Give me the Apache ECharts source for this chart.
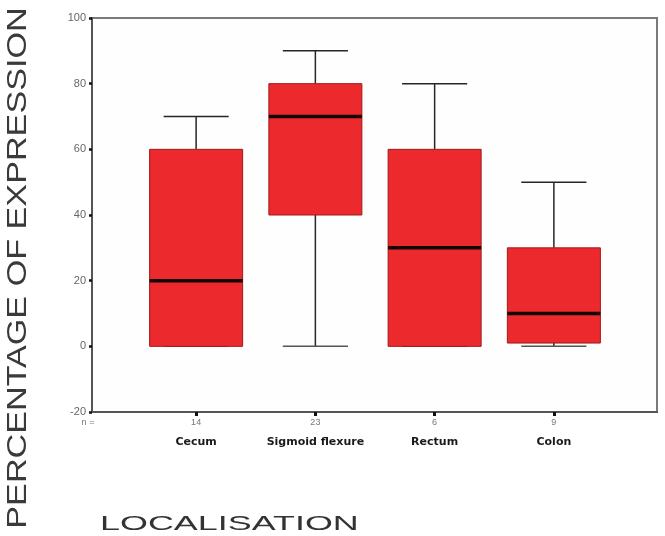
<!DOCTYPE html>
<html>
<head>
<meta charset="utf-8">
<script src="https://cdn.jsdelivr.net/npm/echarts@6/dist/echarts.min.js"></script>
<style>html,body{margin:0;padding:0;background:#fff}#c{width:665px;height:536px}</style>
</head>
<body>
<div id="c"></div>
<script>
const categories = ['Cecum', 'Sigmoid flexure', 'Rectum', 'Colon'];
const counts = [14, 23, 6, 9];
const whiskerLow = [0, 0, 0, 0];
const q1 = [0, 40, 0, 1];
const median = [20, 70, 30, 10];
const q3 = [60, 80, 60, 30];
const whiskerHigh = [70, 90, 80, 50];
const yMin = -20, yMax = 100, yStep = 20;

const boxData = categories.map((c, i) => [i, whiskerLow[i], q1[i], median[i], q3[i], whiskerHigh[i]]);

const chart = echarts.init(document.getElementById('c'), null, {renderer: 'canvas'});

function renderBox(params, api) {
  const i = api.value(0);
  const band = api.size([1, 0])[0];
  const bw = band * 0.78;
  const cap = bw * 0.7;
  const pLow = api.coord([i, api.value(1)]);
  const pQ1 = api.coord([i, api.value(2)]);
  const pMed = api.coord([i, api.value(3)]);
  const pQ3 = api.coord([i, api.value(4)]);
  const pHigh = api.coord([i, api.value(5)]);
  const cx = pMed[0];
  const wStyle = {stroke: '#262626', lineWidth: 1.5};
  return {
    type: 'group',
    children: [
      {type: 'line', shape: {x1: cx, y1: pQ3[1], x2: cx, y2: pHigh[1]}, style: wStyle},
      {type: 'line', shape: {x1: cx - cap / 2, y1: pHigh[1], x2: cx + cap / 2, y2: pHigh[1]}, style: wStyle},
      {type: 'line', shape: {x1: cx, y1: pQ1[1], x2: cx, y2: pLow[1]}, style: wStyle},
      {type: 'line', shape: {x1: cx - cap / 2, y1: pLow[1], x2: cx + cap / 2, y2: pLow[1]}, style: {stroke: '#555', lineWidth: 1.5}},
      {type: 'rect', shape: {x: cx - bw / 2, y: pQ3[1], width: bw, height: pQ1[1] - pQ3[1]},
        style: {fill: '#ec292d', stroke: '#a3181b', lineWidth: 1}},
      {type: 'line', shape: {x1: cx - bw / 2, y1: pMed[1], x2: cx + bw / 2, y2: pMed[1]}, style: {stroke: '#140404', lineWidth: 3.5}}
    ]
  };
}

const option = {
  backgroundColor: '#ffffff',
  animation: false,
  grid: [
    {left: 92, right: 8, top: 18, bottom: 124, show: true, borderColor: '#7a7a7a', borderWidth: 2, backgroundColor: '#fefefe'},
    {left: 136.5, right: 51.5, top: 18, bottom: 124}
  ],
  xAxis: [
    {gridIndex: 0, type: 'value', min: 0, max: 1,
      axisLine: {show: true, onZero: false, lineStyle: {color: '#555', width: 2}},
      axisTick: {show: false}, axisLabel: {show: false}, splitLine: {show: false}},
    {gridIndex: 1, type: 'category', data: categories, boundaryGap: true,
      axisLine: {show: false, onZero: false},
      axisTick: {show: true, alignWithLabel: true, length: 4, lineStyle: {color: '#111', width: 3}},
      axisLabel: {
        margin: 4, interval: 0,
        formatter: (v, idx) => '{n|' + counts[idx] + '}\n{c|' + v + '}',
        rich: {
          n: {fontSize: 9, color: '#777', lineHeight: 14, fontFamily: 'Liberation Sans'},
          c: {fontSize: 11, fontWeight: 'bold', color: '#1a1a1a', lineHeight: 24, fontFamily: 'DejaVu Sans'}
        }
      },
      splitLine: {show: false}}
  ],
  yAxis: [
    {gridIndex: 0, type: 'value', min: yMin, max: yMax, interval: yStep,
      axisLine: {show: true, onZero: false, lineStyle: {color: '#555', width: 2}},
      axisTick: {show: true, inside: false, length: 3, lineStyle: {color: '#111', width: 2.5}},
      axisLabel: {color: '#666', fontSize: 11, margin: 6, fontFamily: 'Liberation Sans'},
      splitLine: {show: false}},
    {gridIndex: 1, type: 'value', min: yMin, max: yMax, interval: yStep, show: false, splitLine: {show: false}}
  ],
  series: [{
    type: 'custom',
    xAxisIndex: 1,
    yAxisIndex: 1,
    data: boxData,
    encode: {x: 0, y: [1, 2, 3, 4, 5]},
    renderItem: renderBox
  }],
  graphic: [
    {type: 'text', x: 18, y: 268, rotation: Math.PI / 2, scaleX: 1.22,
      style: {text: 'PERCENTAGE OF EXPRESSION', fontSize: 28, fontFamily: 'Liberation Sans', fill: '#3a3a3a',
        textAlign: 'center', textVerticalAlign: 'middle'}},
    {type: 'text', x: 100, y: 524, scaleX: 1.71,
      style: {text: 'LOCALISATION', fontSize: 21, fontFamily: 'Liberation Sans', fill: '#333',
        textAlign: 'left', textVerticalAlign: 'middle'}},
    {type: 'text', x: 88, y: 423,
      style: {text: 'n =', fontSize: 9, fontFamily: 'Liberation Sans', fill: '#777',
        textAlign: 'center', textVerticalAlign: 'middle'}}
  ]
};
chart.setOption(option);
</script>
</body>
</html>
